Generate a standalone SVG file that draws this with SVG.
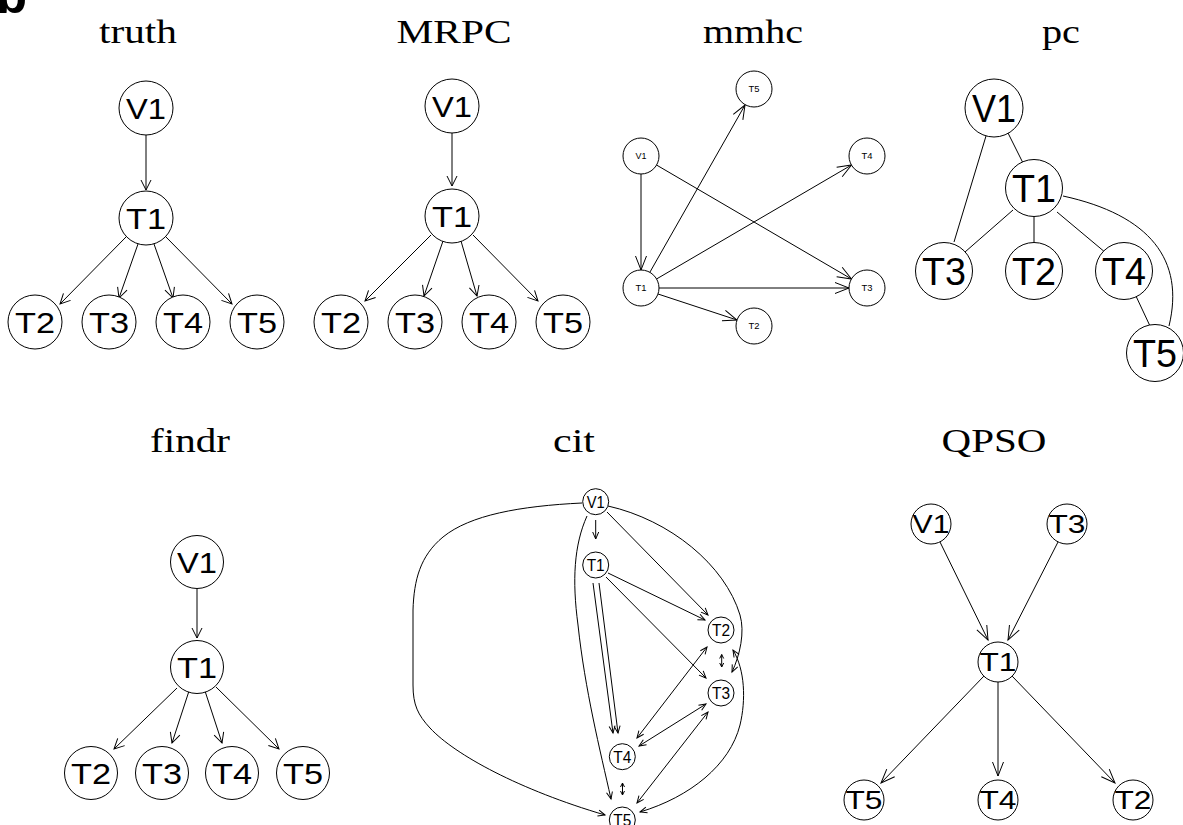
<svg xmlns="http://www.w3.org/2000/svg" width="1183" height="825" viewBox="0 0 1183 825">
<style>
.title{font-family:"Liberation Serif","Times New Roman",serif;font-size:33px;fill:#000;text-anchor:middle}
.lbl{font-family:"Liberation Sans",Arial,Helvetica,sans-serif;fill:#000;text-anchor:middle}
.n{fill:#fff;stroke:#000;stroke-width:1}
.e{fill:none;stroke:#000;stroke-width:1}
.m path{fill:none;stroke:#000;stroke-width:1}
.L30{font-size:30px}
.L9{font-size:9px}
.L39{font-size:39px}
.L16{font-size:16px}
.L25{font-size:25px}
.big{font-family:"Liberation Sans",Arial,sans-serif;font-weight:bold;font-size:50px;fill:#000}
</style>
<defs>
<marker id="am" class="m" markerUnits="userSpaceOnUse" markerWidth="10" markerHeight="10" refX="10" refY="5" orient="auto-start-reverse" overflow="visible"><path d="M0,0 L10,5 L0,10"/></marker>
<marker id="al" class="m" markerUnits="userSpaceOnUse" markerWidth="14" markerHeight="11" refX="14" refY="5.5" orient="auto-start-reverse" overflow="visible"><path d="M0,0 L14,5.5 L0,11"/></marker>
<marker id="as" class="m" markerUnits="userSpaceOnUse" markerWidth="7" markerHeight="6" refX="7" refY="3" orient="auto-start-reverse" overflow="visible"><path d="M0,0 L7,3 L0,6"/></marker>
<marker id="at" class="m" markerUnits="userSpaceOnUse" markerWidth="4" markerHeight="4" refX="4" refY="2" orient="auto-start-reverse" overflow="visible"><path d="M0,0 L4,2 L0,4"/></marker>
</defs>
<rect width="1183" height="825" fill="#fff"/>
<text class="big" x="-3.5" y="13">b</text>

<g id="titles">
<text class="title" x="138" y="43" textLength="78" lengthAdjust="spacingAndGlyphs">truth</text>
<text class="title" x="454" y="43" textLength="115" lengthAdjust="spacingAndGlyphs">MRPC</text>
<text class="title" x="753" y="43" textLength="100" lengthAdjust="spacingAndGlyphs">mmhc</text>
<text class="title" x="1061" y="43" textLength="38" lengthAdjust="spacingAndGlyphs">pc</text>
<text class="title" x="190" y="452" textLength="80" lengthAdjust="spacingAndGlyphs">findr</text>
<text class="title" x="574" y="452" textLength="42" lengthAdjust="spacingAndGlyphs">cit</text>
<text class="title" x="994" y="452" textLength="105" lengthAdjust="spacingAndGlyphs">QPSO</text>
</g>

<g id="connectors">
<g id="truth-edges" marker-end="url(#am)">
<path class="e" d="M146,135 L146,190"/>
<path class="e" d="M126,237 L60,304"/>
<path class="e" d="M138,244 L119,298"/>
<path class="e" d="M154,244 L173,298"/>
<path class="e" d="M166,237 L232,304"/>
</g>
<g id="mrpc-edges" marker-end="url(#am)">
<path class="e" d="M452,133 L452,186"/>
<path class="e" d="M431,235 L365,301"/>
<path class="e" d="M443,241 L424,296"/>
<path class="e" d="M461,241 L477,296"/>
<path class="e" d="M473,235 L538,301"/>
</g>
<g id="mmhc-edges" marker-end="url(#al)">
<path class="e" d="M641,174 L641,270"/>
<path class="e" d="M656.5,165 L851.5,279"/>
<path class="e" d="M650,272 L745,105"/>
<path class="e" d="M656.5,279 L851.5,165"/>
<path class="e" d="M659,288 L849,288"/>
<path class="e" d="M658,294 L737,320"/>
</g>
<g id="pc-edges">
<path class="e" d="M986,136 L954,242"/>
<path class="e" d="M1007,131 L1025,167"/>
<path class="e" d="M1013,210 L965,252"/>
<path class="e" d="M1034,217 L1034,242"/>
<path class="e" d="M1057,212 L1106,253"/>
<path class="e" d="M1135,294 L1150,326"/>
<path class="e" d="M1063,196 C1150,215 1185,260 1169,326"/>
</g>
<g id="findr-edges" marker-end="url(#am)">
<path class="e" d="M197,589 L197,638"/>
<path class="e" d="M177,688 L114,749"/>
<path class="e" d="M189,691 L172,743"/>
<path class="e" d="M205,691 L222,743"/>
<path class="e" d="M216,687 L279,749"/>
</g>
<g id="cit-edges" marker-end="url(#as)">
<path class="e" d="M595.7,520 L595.7,539"/>
<path class="e" d="M607,512 L708,615"/>
<path class="e" d="M608,506 C670,520 725,565 740,615 C745,632 740,655 732,672"/>
<path class="e" marker-start="url(#as)" d="M733,650 C745,670 746,700 740,725 C730,765 690,797 640,812"/>
<path class="e" d="M582,503 C520,506 470,515 443,537 C420,556 414,580 413,610 L413,685 C413,705 418,715 430,728 C455,755 520,790 605,815"/>
<path class="e" d="M587,516 C574,545 572,580 578,625 C585,690 600,750 611,799"/>
<path class="e" d="M593,583 L613,733"/>
<path class="e" d="M599,583 L618,733"/>
<path class="e" d="M608,573 L705,620"/>
<path class="e" d="M606,577 L706,678"/>
<path class="e" marker-start="url(#as)" d="M707,647 L637,738"/>
<path class="e" marker-start="url(#as)" d="M706,704 L639,746"/>
<path class="e" marker-start="url(#as)" d="M708,712 L637,803"/>
<path class="e" marker-start="url(#at)" marker-end="url(#at)" d="M721.7,654.5 L721.7,667"/>
<path class="e" marker-start="url(#at)" marker-end="url(#at)" d="M622.5,783 L622.5,795"/>
</g>
<g id="qpso-edges" marker-end="url(#al)">
<path class="e" d="M940,542 L988,640"/>
<path class="e" d="M1058,542 L1008,640"/>
<path class="e" d="M984,676 L881,783"/>
<path class="e" d="M998,682 L998,776"/>
<path class="e" d="M1012,676 L1115,783"/>
</g>
</g>

<g id="truth-V1"><circle class="n" cx="146" cy="108" r="27"/><text class="lbl L30" x="146" y="119" textLength="40" lengthAdjust="spacingAndGlyphs">V1</text></g>
<g id="truth-T1"><circle class="n" cx="146" cy="218" r="27"/><text class="lbl L30" x="146" y="229" textLength="40" lengthAdjust="spacingAndGlyphs">T1</text></g>
<g id="truth-T2"><circle class="n" cx="35" cy="322" r="27"/><text class="lbl L30" x="35" y="333" textLength="40" lengthAdjust="spacingAndGlyphs">T2</text></g>
<g id="truth-T3"><circle class="n" cx="109" cy="322" r="27"/><text class="lbl L30" x="109" y="333" textLength="40" lengthAdjust="spacingAndGlyphs">T3</text></g>
<g id="truth-T4"><circle class="n" cx="183" cy="322" r="27"/><text class="lbl L30" x="183" y="333" textLength="40" lengthAdjust="spacingAndGlyphs">T4</text></g>
<g id="truth-T5"><circle class="n" cx="257" cy="322" r="27"/><text class="lbl L30" x="257" y="333" textLength="40" lengthAdjust="spacingAndGlyphs">T5</text></g>

<g id="mrpc-V1"><circle class="n" cx="452" cy="106" r="27"/><text class="lbl L30" x="452" y="117" textLength="40" lengthAdjust="spacingAndGlyphs">V1</text></g>
<g id="mrpc-T1"><circle class="n" cx="452" cy="216" r="27"/><text class="lbl L30" x="452" y="227" textLength="40" lengthAdjust="spacingAndGlyphs">T1</text></g>
<g id="mrpc-T2"><circle class="n" cx="341" cy="322" r="27"/><text class="lbl L30" x="341" y="333" textLength="40" lengthAdjust="spacingAndGlyphs">T2</text></g>
<g id="mrpc-T3"><circle class="n" cx="415" cy="322" r="27"/><text class="lbl L30" x="415" y="333" textLength="40" lengthAdjust="spacingAndGlyphs">T3</text></g>
<g id="mrpc-T4"><circle class="n" cx="489" cy="322" r="27"/><text class="lbl L30" x="489" y="333" textLength="40" lengthAdjust="spacingAndGlyphs">T4</text></g>
<g id="mrpc-T5"><circle class="n" cx="563" cy="322" r="27"/><text class="lbl L30" x="563" y="333" textLength="40" lengthAdjust="spacingAndGlyphs">T5</text></g>

<g id="mmhc-T5"><circle class="n" cx="754" cy="89" r="18"/><text class="lbl L9" x="754" y="92.3" textLength="11" lengthAdjust="spacingAndGlyphs">T5</text></g>
<g id="mmhc-V1"><circle class="n" cx="641" cy="156" r="18"/><text class="lbl L9" x="641" y="159.3" textLength="11" lengthAdjust="spacingAndGlyphs">V1</text></g>
<g id="mmhc-T4"><circle class="n" cx="867" cy="156" r="18"/><text class="lbl L9" x="867" y="159.3" textLength="11" lengthAdjust="spacingAndGlyphs">T4</text></g>
<g id="mmhc-T1"><circle class="n" cx="641" cy="288" r="18"/><text class="lbl L9" x="641" y="291.3" textLength="11" lengthAdjust="spacingAndGlyphs">T1</text></g>
<g id="mmhc-T3"><circle class="n" cx="867" cy="288" r="18"/><text class="lbl L9" x="867" y="291.3" textLength="11" lengthAdjust="spacingAndGlyphs">T3</text></g>
<g id="mmhc-T2"><circle class="n" cx="754" cy="326" r="18"/><text class="lbl L9" x="754" y="329.3" textLength="11" lengthAdjust="spacingAndGlyphs">T2</text></g>

<g id="pc-V1"><circle class="n" cx="994" cy="108" r="29"/><text class="lbl L39" x="994" y="122" textLength="44" lengthAdjust="spacingAndGlyphs">V1</text></g>
<g id="pc-T1"><circle class="n" cx="1034" cy="188" r="28.5"/><text class="lbl L39" x="1034" y="202" textLength="44" lengthAdjust="spacingAndGlyphs">T1</text></g>
<g id="pc-T3"><circle class="n" cx="944" cy="271" r="28.5"/><text class="lbl L39" x="944" y="285" textLength="44" lengthAdjust="spacingAndGlyphs">T3</text></g>
<g id="pc-T2"><circle class="n" cx="1034" cy="271" r="28.5"/><text class="lbl L39" x="1034" y="285" textLength="44" lengthAdjust="spacingAndGlyphs">T2</text></g>
<g id="pc-T4"><circle class="n" cx="1124" cy="271" r="28.5"/><text class="lbl L39" x="1124" y="285" textLength="44" lengthAdjust="spacingAndGlyphs">T4</text></g>
<g id="pc-T5"><circle class="n" cx="1155" cy="353" r="28.5"/><text class="lbl L39" x="1155" y="367" textLength="44" lengthAdjust="spacingAndGlyphs">T5</text></g>

<g id="findr-V1"><circle class="n" cx="197" cy="562" r="26.5"/><text class="lbl L30" x="197" y="573" textLength="40" lengthAdjust="spacingAndGlyphs">V1</text></g>
<g id="findr-T1"><circle class="n" cx="197" cy="667" r="26.5"/><text class="lbl L30" x="197" y="678" textLength="40" lengthAdjust="spacingAndGlyphs">T1</text></g>
<g id="findr-T2"><circle class="n" cx="91" cy="773" r="26.5"/><text class="lbl L30" x="91" y="784" textLength="40" lengthAdjust="spacingAndGlyphs">T2</text></g>
<g id="findr-T3"><circle class="n" cx="162" cy="773" r="26.5"/><text class="lbl L30" x="162" y="784" textLength="40" lengthAdjust="spacingAndGlyphs">T3</text></g>
<g id="findr-T4"><circle class="n" cx="232" cy="773" r="26.5"/><text class="lbl L30" x="232" y="784" textLength="40" lengthAdjust="spacingAndGlyphs">T4</text></g>
<g id="findr-T5"><circle class="n" cx="303" cy="773" r="26.5"/><text class="lbl L30" x="303" y="784" textLength="40" lengthAdjust="spacingAndGlyphs">T5</text></g>

<g id="cit-V1"><circle class="n" cx="595.7" cy="501.7" r="13"/><text class="lbl L16" x="595.7" y="507.7" textLength="18" lengthAdjust="spacingAndGlyphs">V1</text></g>
<g id="cit-T1"><circle class="n" cx="595.7" cy="565" r="13"/><text class="lbl L16" x="595.7" y="571" textLength="18" lengthAdjust="spacingAndGlyphs">T1</text></g>
<g id="cit-T2"><circle class="n" cx="721" cy="630" r="13"/><text class="lbl L16" x="721" y="636" textLength="18" lengthAdjust="spacingAndGlyphs">T2</text></g>
<g id="cit-T3"><circle class="n" cx="721" cy="693" r="13"/><text class="lbl L16" x="721" y="699" textLength="18" lengthAdjust="spacingAndGlyphs">T3</text></g>
<g id="cit-T4"><circle class="n" cx="622.3" cy="756.7" r="13"/><text class="lbl L16" x="622.3" y="762.7" textLength="18" lengthAdjust="spacingAndGlyphs">T4</text></g>
<g id="cit-T5"><circle class="n" cx="622.3" cy="820" r="13"/><text class="lbl L16" x="622.3" y="826" textLength="18" lengthAdjust="spacingAndGlyphs">T5</text></g>

<g id="qpso-V1"><circle class="n" cx="931" cy="524" r="20"/><text class="lbl L25" x="931" y="533" textLength="37" lengthAdjust="spacingAndGlyphs">V1</text></g>
<g id="qpso-T3"><circle class="n" cx="1067" cy="524" r="20"/><text class="lbl L25" x="1067" y="533" textLength="37" lengthAdjust="spacingAndGlyphs">T3</text></g>
<g id="qpso-T1"><circle class="n" cx="998" cy="662" r="20"/><text class="lbl L25" x="998" y="671" textLength="37" lengthAdjust="spacingAndGlyphs">T1</text></g>
<g id="qpso-T5"><circle class="n" cx="864" cy="800" r="20"/><text class="lbl L25" x="864" y="809" textLength="37" lengthAdjust="spacingAndGlyphs">T5</text></g>
<g id="qpso-T4"><circle class="n" cx="998" cy="800" r="20"/><text class="lbl L25" x="998" y="809" textLength="37" lengthAdjust="spacingAndGlyphs">T4</text></g>
<g id="qpso-T2"><circle class="n" cx="1133" cy="800" r="20"/><text class="lbl L25" x="1133" y="809" textLength="37" lengthAdjust="spacingAndGlyphs">T2</text></g>
</svg>
